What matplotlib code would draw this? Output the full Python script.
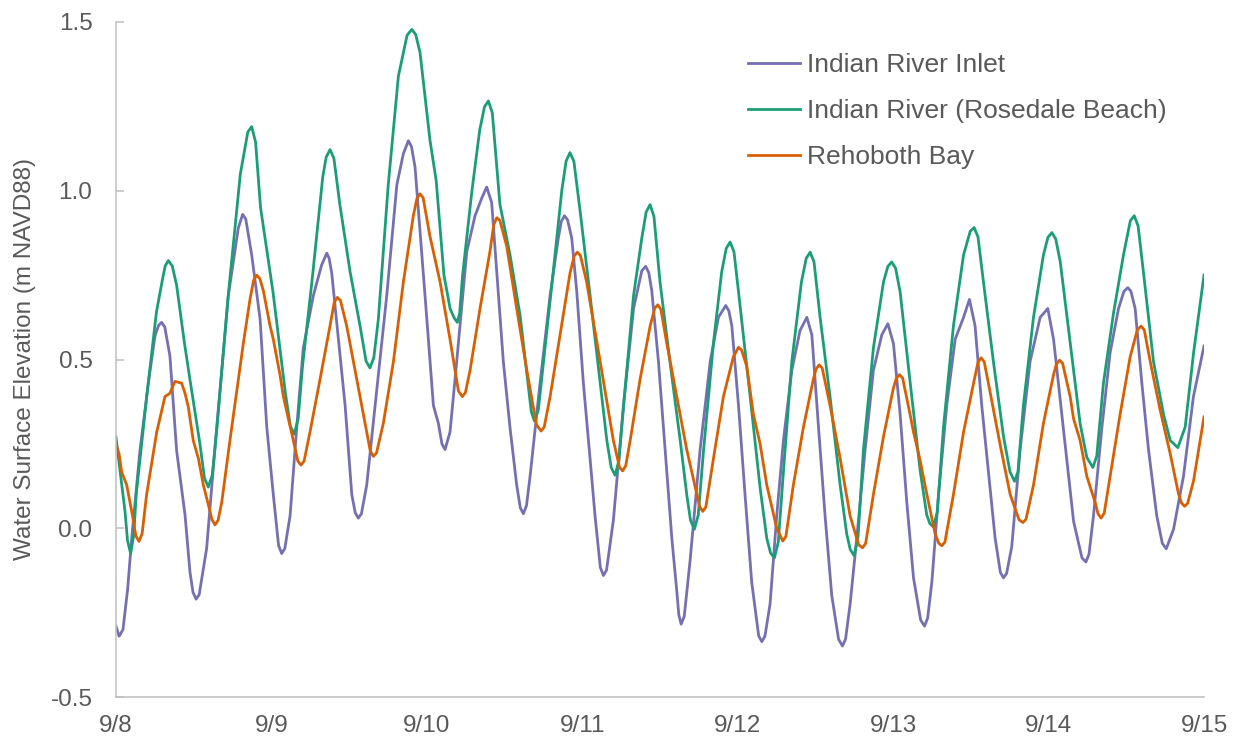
import matplotlib.pyplot as plt

# (days after 9/8 00:00, water level in m NAVD88)
inlet = [
    (0.0, -0.29), (0.02, -0.32), (0.045, -0.30), (0.075, -0.18), (0.101, -0.03), (0.154, 0.23),
    (0.208, 0.43), (0.251, 0.57), (0.274, 0.601), (0.294, 0.61), (0.314, 0.596), (0.347, 0.51),
    (0.39, 0.23), (0.444, 0.04), (0.476, -0.13), (0.495, -0.189), (0.515, -0.21), (0.535, -0.197),
    (0.583, -0.06), (0.648, 0.30), (0.723, 0.69), (0.787, 0.89), (0.815, 0.93), (0.835, 0.916),
    (0.873, 0.81), (0.927, 0.62), (0.97, 0.30), (1.012, 0.10), (1.046, -0.051), (1.066, -0.075),
    (1.086, -0.06), (1.12, 0.037), (1.163, 0.30), (1.205, 0.534), (1.27, 0.69), (1.323, 0.78),
    (1.356, 0.815), (1.371, 0.80), (1.388, 0.756), (1.431, 0.56), (1.474, 0.364), (1.517, 0.10),
    (1.539, 0.046), (1.559, 0.03), (1.579, 0.043), (1.613, 0.128), (1.667, 0.364), (1.742, 0.69),
    (1.807, 1.018), (1.849, 1.11), (1.881, 1.148), (1.901, 1.131), (1.924, 1.07), (1.956, 0.88),
    (1.999, 0.625), (2.042, 0.364), (2.074, 0.311), (2.097, 0.25), (2.117, 0.233), (2.149, 0.285),
    (2.192, 0.494), (2.257, 0.82), (2.31, 0.926), (2.353, 0.978), (2.385, 1.011), (2.417, 0.965),
    (2.45, 0.756), (2.492, 0.494), (2.535, 0.298), (2.578, 0.128), (2.601, 0.061), (2.621, 0.043),
    (2.641, 0.067), (2.664, 0.154), (2.728, 0.429), (2.793, 0.69), (2.846, 0.86), (2.865, 0.909),
    (2.885, 0.926), (2.905, 0.914), (2.932, 0.86), (2.964, 0.704), (3.007, 0.43), (3.05, 0.207),
    (3.082, 0.037), (3.116, -0.116), (3.136, -0.14), (3.156, -0.124), (3.2, 0.024), (3.265, 0.364),
    (3.33, 0.651), (3.383, 0.763), (3.408, 0.776), (3.428, 0.757), (3.447, 0.704), (3.49, 0.494),
    (3.533, 0.233), (3.576, -0.029), (3.608, -0.186), (3.621, -0.256), (3.636, -0.284),
    (3.656, -0.261), (3.694, -0.094), (3.758, 0.233), (3.823, 0.494), (3.876, 0.625), (3.923, 0.66),
    (3.943, 0.644), (3.962, 0.60), (4.005, 0.364), (4.047, 0.10), (4.09, -0.16), (4.135, -0.319),
    (4.155, -0.336), (4.175, -0.32), (4.208, -0.225), (4.251, 0.037), (4.294, 0.26), (4.348, 0.468),
    (4.401, 0.586), (4.445, 0.625), (4.477, 0.573), (4.52, 0.298), (4.562, 0.037), (4.605, -0.199),
    (4.649, -0.329), (4.674, -0.349), (4.694, -0.328), (4.723, -0.225), (4.766, -0.029),
    (4.82, 0.233), (4.873, 0.468), (4.927, 0.573), (4.966, 0.606), (5.002, 0.547), (5.045, 0.337),
    (5.088, 0.076), (5.131, -0.147), (5.177, -0.272), (5.202, -0.29), (5.222, -0.266),
    (5.249, -0.16), (5.292, 0.10), (5.345, 0.364), (5.399, 0.56), (5.453, 0.625), (5.491, 0.678),
    (5.527, 0.60), (5.57, 0.364), (5.613, 0.167), (5.656, -0.029), (5.69, -0.131), (5.71, -0.147),
    (5.73, -0.134), (5.763, -0.055), (5.817, 0.233), (5.881, 0.494), (5.946, 0.625), (5.995, 0.651),
    (6.032, 0.56), (6.075, 0.38), (6.118, 0.20), (6.161, 0.02), (6.215, -0.088), (6.24, -0.10),
    (6.26, -0.077), (6.289, 0.037), (6.343, 0.298), (6.396, 0.52), (6.45, 0.651), (6.485, 0.702),
    (6.51, 0.713), (6.53, 0.702), (6.557, 0.651), (6.6, 0.43), (6.643, 0.233), (6.696, 0.037),
    (6.732, -0.045), (6.757, -0.061), (6.804, -0.003), (6.868, 0.154), (6.932, 0.39), (7.0, 0.54),
]

rosedale = [
    (0.0, 0.27), (0.026, 0.17), (0.058, 0.05), (0.074, -0.036), (0.094, -0.075), (0.114, -0.021),
    (0.13, 0.10), (0.20, 0.40), (0.26, 0.64), (0.30, 0.74), (0.317, 0.778), (0.337, 0.793),
    (0.362, 0.777), (0.39, 0.72), (0.44, 0.55), (0.476, 0.44), (0.54, 0.25), (0.569, 0.149),
    (0.594, 0.122), (0.619, 0.157), (0.65, 0.30), (0.72, 0.68), (0.80, 1.05), (0.848, 1.174),
    (0.873, 1.19), (0.898, 1.144), (0.93, 0.95), (1.01, 0.70), (1.09, 0.40), (1.122, 0.302),
    (1.147, 0.279), (1.172, 0.324), (1.20, 0.48), (1.265, 0.75), (1.33, 1.04), (1.352, 1.099),
    (1.377, 1.122), (1.402, 1.096), (1.44, 0.96), (1.506, 0.76), (1.57, 0.60), (1.609, 0.495),
    (1.634, 0.475), (1.659, 0.506), (1.688, 0.62), (1.752, 1.02), (1.817, 1.34), (1.873, 1.461),
    (1.903, 1.478), (1.928, 1.463), (1.956, 1.41), (2.02, 1.15), (2.06, 1.03), (2.11, 0.75),
    (2.15, 0.65), (2.176, 0.623), (2.196, 0.61), (2.211, 0.637), (2.23, 0.75), (2.29, 1.00),
    (2.34, 1.18), (2.371, 1.249), (2.396, 1.266), (2.421, 1.231), (2.47, 0.96), (2.535, 0.81),
    (2.60, 0.63), (2.653, 0.42), (2.672, 0.345), (2.692, 0.318), (2.717, 0.35), (2.75, 0.49),
    (2.813, 0.76), (2.868, 1.0), (2.896, 1.088), (2.921, 1.113), (2.946, 1.087), (2.986, 0.94),
    (3.05, 0.69), (3.115, 0.43), (3.158, 0.26), (3.186, 0.18), (3.211, 0.157), (3.236, 0.201),
    (3.265, 0.36), (3.33, 0.69), (3.383, 0.86), (3.411, 0.937), (3.436, 0.959), (3.461, 0.924),
    (3.50, 0.73), (3.565, 0.49), (3.63, 0.26), (3.672, 0.10), (3.696, 0.024), (3.721, -0.003),
    (3.746, 0.039), (3.78, 0.23), (3.844, 0.55), (3.897, 0.76), (3.926, 0.829), (3.951, 0.848),
    (3.976, 0.819), (4.015, 0.66), (4.08, 0.39), (4.144, 0.12), (4.187, -0.03), (4.211, -0.073),
    (4.236, -0.088), (4.261, -0.041), (4.294, 0.167), (4.348, 0.494), (4.41, 0.73), (4.441, 0.80),
    (4.466, 0.818), (4.491, 0.789), (4.53, 0.625), (4.594, 0.39), (4.659, 0.128), (4.701, -0.016),
    (4.724, -0.063), (4.749, -0.081), (4.774, -0.026), (4.809, 0.233), (4.873, 0.534), (4.938, 0.73),
    (4.966, 0.776), (4.991, 0.789), (5.016, 0.77), (5.045, 0.70), (5.11, 0.43), (5.174, 0.17),
    (5.216, 0.04), (5.237, 0.013), (5.259, 0.004), (5.284, 0.048), (5.324, 0.30), (5.388, 0.60),
    (5.453, 0.81), (5.496, 0.88), (5.521, 0.891), (5.546, 0.863), (5.581, 0.73), (5.645, 0.494),
    (5.71, 0.272), (5.752, 0.167), (5.781, 0.139), (5.803, 0.167), (5.838, 0.364), (5.903, 0.625),
    (5.967, 0.81), (5.996, 0.862), (6.021, 0.876), (6.046, 0.857), (6.075, 0.79), (6.139, 0.55),
    (6.203, 0.31), (6.246, 0.21), (6.285, 0.18), (6.31, 0.214), (6.353, 0.43), (6.418, 0.638),
    (6.482, 0.81), (6.526, 0.911), (6.551, 0.926), (6.576, 0.896), (6.611, 0.756), (6.675, 0.494),
    (6.74, 0.337), (6.783, 0.26), (6.832, 0.239), (6.879, 0.30), (6.933, 0.52), (7.0, 0.75),
]

rehoboth = [
    (0.0, 0.25), (0.02, 0.22), (0.036, 0.167), (0.069, 0.128), (0.101, 0.05), (0.128, -0.023),
    (0.148, -0.039), (0.168, -0.016), (0.197, 0.10), (0.262, 0.285), (0.315, 0.39), (0.347, 0.40),
    (0.379, 0.435), (0.422, 0.43), (0.444, 0.40), (0.465, 0.36), (0.497, 0.26), (0.53, 0.207),
    (0.562, 0.128), (0.605, 0.05), (0.617, 0.026), (0.637, 0.01), (0.657, 0.024), (0.68, 0.076),
    (0.733, 0.26), (0.776, 0.403), (0.819, 0.547), (0.862, 0.678), (0.885, 0.734), (0.905, 0.75),
    (0.925, 0.74), (0.948, 0.704), (0.991, 0.60), (1.012, 0.56), (1.055, 0.455), (1.077, 0.39),
    (1.141, 0.26), (1.17, 0.199), (1.19, 0.187), (1.21, 0.199), (1.248, 0.285), (1.313, 0.442),
    (1.377, 0.60), (1.404, 0.669), (1.424, 0.684), (1.444, 0.675), (1.484, 0.60), (1.549, 0.442),
    (1.613, 0.285), (1.636, 0.229), (1.656, 0.213), (1.676, 0.223), (1.72, 0.311), (1.785, 0.494),
    (1.849, 0.73), (1.913, 0.926), (1.936, 0.977), (1.956, 0.991), (1.976, 0.979), (2.02, 0.865),
    (2.085, 0.73), (2.149, 0.56), (2.203, 0.407), (2.228, 0.39), (2.248, 0.402), (2.278, 0.468),
    (2.342, 0.651), (2.406, 0.82), (2.43, 0.899), (2.45, 0.92), (2.47, 0.912), (2.514, 0.835),
    (2.578, 0.651), (2.643, 0.468), (2.705, 0.307), (2.735, 0.288), (2.755, 0.30), (2.793, 0.39),
    (2.857, 0.573), (2.921, 0.756), (2.948, 0.807), (2.968, 0.818), (2.988, 0.808), (3.028, 0.73),
    (3.115, 0.494), (3.2, 0.26), (3.24, 0.18), (3.26, 0.17), (3.28, 0.186), (3.308, 0.26),
    (3.372, 0.442), (3.437, 0.60), (3.466, 0.652), (3.486, 0.662), (3.506, 0.648), (3.544, 0.547),
    (3.608, 0.39), (3.672, 0.233), (3.737, 0.10), (3.755, 0.064), (3.775, 0.05), (3.795, 0.063),
    (3.844, 0.207), (3.908, 0.39), (3.972, 0.508), (4.005, 0.536), (4.025, 0.528), (4.058, 0.48),
    (4.101, 0.337), (4.144, 0.25), (4.187, 0.128), (4.251, 0.0), (4.29, -0.038), (4.31, -0.024),
    (4.358, 0.128), (4.423, 0.30), (4.487, 0.442), (4.504, 0.472), (4.524, 0.484), (4.544, 0.474),
    (4.594, 0.364), (4.659, 0.207), (4.723, 0.037), (4.778, -0.049), (4.803, -0.058),
    (4.823, -0.045), (4.873, 0.10), (4.938, 0.272), (5.002, 0.416), (5.021, 0.445), (5.041, 0.455),
    (5.061, 0.445), (5.109, 0.337), (5.131, 0.285), (5.174, 0.20), (5.217, 0.10), (5.27, -0.016),
    (5.293, -0.044), (5.313, -0.052), (5.333, -0.041), (5.388, 0.10), (5.453, 0.285), (5.517, 0.429),
    (5.546, 0.492), (5.566, 0.505), (5.586, 0.493), (5.624, 0.403), (5.689, 0.246), (5.753, 0.10),
    (5.81, 0.025), (5.835, 0.017), (5.855, 0.027), (5.903, 0.128), (5.967, 0.311), (6.032, 0.455),
    (6.05, 0.486), (6.07, 0.498), (6.09, 0.489), (6.139, 0.39), (6.161, 0.324), (6.203, 0.26),
    (6.246, 0.154), (6.3, 0.076), (6.318, 0.043), (6.338, 0.03), (6.358, 0.045), (6.396, 0.154),
    (6.46, 0.337), (6.525, 0.508), (6.571, 0.588), (6.596, 0.599), (6.616, 0.587), (6.654, 0.494),
    (6.718, 0.35), (6.783, 0.22), (6.836, 0.102), (6.855, 0.075), (6.875, 0.065), (6.895, 0.074),
    (6.933, 0.141), (7.0, 0.33),
]

day_labels = ['9/8', '9/9', '9/10', '9/11', '9/12', '9/13', '9/14', '9/15']
y_ticks = [-0.5, 0.0, 0.5, 1.0, 1.5]

plt.rcParams['font.family'] = ['Liberation Sans', 'DejaVu Sans']
grey = '#595959'

fig = plt.figure(figsize=(12.38, 7.43), dpi=100)
ax = fig.add_axes([116 / 1238, 1 - 697 / 743, 1088 / 1238, 675 / 743])

series = [
    (inlet, '#7570b3', 'Indian River Inlet'),
    (rosedale, '#1b9e77', 'Indian River (Rosedale Beach)'),
    (rehoboth, '#d95f02', 'Rehoboth Bay'),
]
for data, colour, name in series:
    t, v = zip(*data)
    ax.plot(t, v, color=colour, lw=2.0, label=name, solid_joinstyle='round')

ax.set_xlim(0, 7)
ax.set_ylim(-0.5, 1.5)
ax.set_xticks(range(len(day_labels)))
ax.set_xticklabels(day_labels)
ax.set_yticks(y_ticks)
ax.set_yticklabels([f'{v:.1f}' for v in y_ticks])

for side in ['top', 'right']:
    ax.spines[side].set_visible(False)
for side in ['left', 'bottom']:
    ax.spines[side].set_color('#bfbfbf')
    ax.spines[side].set_linewidth(1.1)

ax.tick_params(axis='y', direction='in', length=6, width=1.1, color='#bfbfbf',
               labelsize=17.5, labelcolor=grey, pad=17)
ax.tick_params(axis='x', length=0, labelsize=17.5, labelcolor=grey, pad=13)

ax.set_ylabel('Water Surface Elevation (m NAVD88)', fontsize=17.5, color=grey)
ax.yaxis.set_label_coords(-0.0735, 0.5)

leg = ax.legend(loc='upper left', bbox_to_anchor=(748 / 1238, 1 - 53 / 743),
                bbox_transform=fig.transFigure, frameon=False, fontsize=19,
                handlelength=1.97, handletextpad=0.25, labelspacing=0.84,
                borderpad=0, borderaxespad=0)
for txt in leg.get_texts():
    txt.set_color(grey)

fig.savefig('out.png', dpi=100)
